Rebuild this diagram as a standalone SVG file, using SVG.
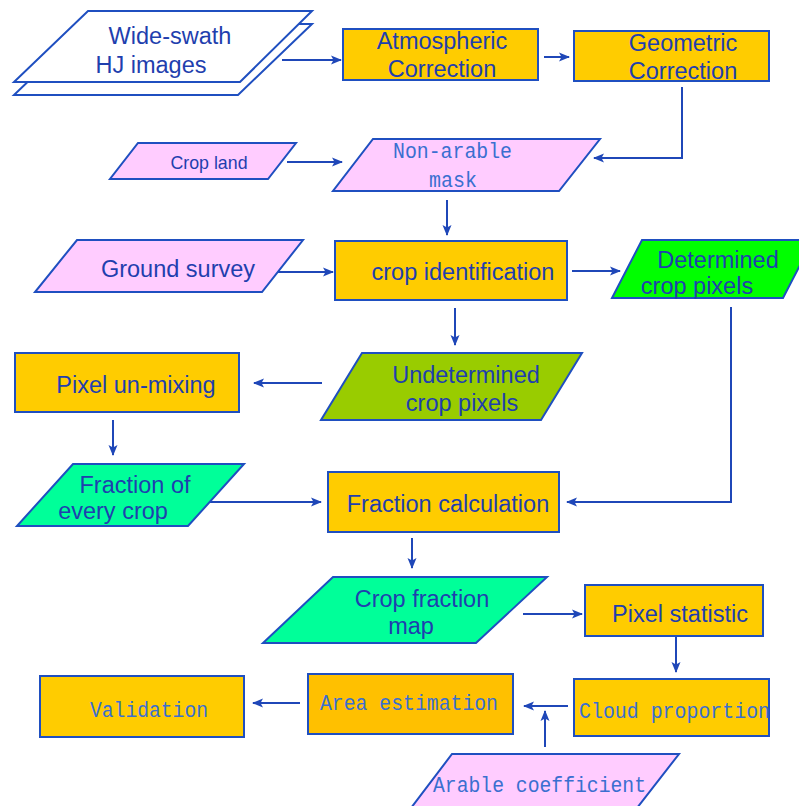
<svg xmlns="http://www.w3.org/2000/svg" width="799" height="806" viewBox="0 0 799 806">
<defs>
<marker id="ah" markerWidth="12" markerHeight="12" refX="10" refY="6" orient="auto" markerUnits="userSpaceOnUse">
<path d="M0,1.5 L11,6 L0,10.5 L2.5,6 Z" fill="#1f47b8"/>
</marker>
</defs>
<style>
.n{stroke:#1f4fc0;stroke-width:2}
.or{fill:#ffcc00}
.or2{fill:#ffc000}
.pk{fill:#ffccff}
.gr{fill:#00ff00}
.ol{fill:#99cc00}
.aq{fill:#00ff99}
.wh{fill:#ffffff}
.t{font-family:"Liberation Sans",Arial,sans-serif;font-size:23.5px;fill:#1f3fae;text-anchor:middle}
.s{font-family:"Liberation Sans",Arial,sans-serif;font-size:17.8px;fill:#1f3fae;text-anchor:middle}
.m{font-family:"Liberation Mono","Courier New",monospace;font-size:22px;fill:#3a6fd0}
.c{fill:none;stroke:#1f47b8;stroke-width:2;marker-end:url(#ah)}
</style>
<rect width="799" height="806" fill="#ffffff"/>
<g id="connectors">
<path class="c" d="M282,60 L341,60"/>
<path class="c" d="M544,57 L569,57"/>
<path class="c" d="M682,87 L682,158 L594,158"/>
<path class="c" d="M287,162 L342,162"/>
<path class="c" d="M447,200 L447,235"/>
<path class="c" d="M278,272 L333,272"/>
<path class="c" d="M572,271 L620,271"/>
<path class="c" d="M455,308 L455,345"/>
<path class="c" d="M322,383 L254,383"/>
<path class="c" d="M113,420 L113,455"/>
<path class="c" d="M210,502 L321,502"/>
<path class="c" d="M731,307 L731,502 L567,502"/>
<path class="c" d="M412,538 L412,568"/>
<path class="c" d="M523,614 L582,614"/>
<path class="c" d="M676,637 L676,672"/>
<path class="c" d="M568,706 L524,706"/>
<path class="c" d="M545,747 L545,711"/>
<path class="c" d="M300,703 L253,703"/>
</g>
<g id="wide-swath">
<polygon class="n wh" points="88,24 312,24 238,95 14,95"/>
<polygon class="n wh" points="88,11 312,11 240,82 14,82"/>
<text class="t" x="170" y="44">Wide-swath</text>
<text class="t" x="151" y="73">HJ images</text>
</g>
<g id="atmospheric">
<rect class="n or" x="343" y="29" width="195" height="51"/>
<text class="t" x="442" y="49">Atmospheric</text>
<text class="t" x="442" y="77">Correction</text>
</g>
<g id="geometric">
<rect class="n or" x="574" y="31" width="195" height="50"/>
<text class="t" x="683" y="51">Geometric</text>
<text class="t" x="683" y="79">Correction</text>
</g>
<g id="cropland">
<polygon class="n pk" points="138,143 296,143 268,179 110,179"/>
<text class="s" x="209" y="169">Crop land</text>
</g>
<g id="nonarable">
<polygon class="n pk" points="373,139 600,139 559,191 333,191"/>
<text class="m" x="393" y="158" textLength="119" lengthAdjust="spacingAndGlyphs">Non-arable</text>
<text class="m" x="429" y="187" textLength="48" lengthAdjust="spacingAndGlyphs">mask</text>
</g>
<g id="ground">
<polygon class="n pk" points="77,240 303,240 262,292 35,292"/>
<text class="t" x="178" y="277">Ground survey</text>
</g>
<g id="cropid">
<rect class="n or" x="335" y="241" width="232" height="59"/>
<text class="t" x="463" y="280">crop identification</text>
</g>
<g id="determined">
<polygon class="n gr" points="642,240 813,240 783,298 612,298"/>
<text class="t" x="718" y="268">Determined</text>
<text class="t" x="697" y="294">crop pixels</text>
</g>
<g id="undetermined">
<polygon class="n ol" points="362,353 582,353 541,420 321,420"/>
<text class="t" x="466" y="383">Undetermined</text>
<text class="t" x="462" y="411">crop pixels</text>
</g>
<g id="unmixing">
<rect class="n or" x="15" y="353" width="224" height="59"/>
<text class="t" x="136" y="393">Pixel un-mixing</text>
</g>
<g id="fraction-every">
<polygon class="n aq" points="73,464 244,464 188,526 17,526"/>
<text class="t" x="135" y="493">Fraction of</text>
<text class="t" x="113" y="519">every crop</text>
</g>
<g id="fraction-calc">
<rect class="n or" x="328" y="472" width="231" height="60"/>
<text class="t" x="448" y="512">Fraction calculation</text>
</g>
<g id="cropfraction">
<polygon class="n aq" points="333,577 547,577 476,643 263,643"/>
<text class="t" x="422" y="607">Crop fraction</text>
<text class="t" x="411" y="634">map</text>
</g>
<g id="pixelstat">
<rect class="n or" x="585" y="585" width="178" height="51"/>
<text class="t" x="680" y="622">Pixel statistic</text>
</g>
<g id="cloud">
<rect class="n or" x="574" y="679" width="195" height="57"/>
<text class="m" x="579" y="718" textLength="191" lengthAdjust="spacingAndGlyphs">Cloud proportion</text>
</g>
<g id="area">
<rect class="n or2" x="308" y="674" width="205" height="60"/>
<text class="m" x="320" y="710" textLength="178" lengthAdjust="spacingAndGlyphs">Area estimation</text>
</g>
<g id="validation">
<rect class="n or" x="40" y="676" width="204" height="61"/>
<text class="m" x="90" y="717" textLength="118" lengthAdjust="spacingAndGlyphs">Validation</text>
</g>
<g id="arable">
<polygon class="n pk" points="452,754 679,754 637,808 411,808"/>
<text class="m" x="433" y="792" textLength="213" lengthAdjust="spacingAndGlyphs">Arable coefficient</text>
</g>
</svg>
